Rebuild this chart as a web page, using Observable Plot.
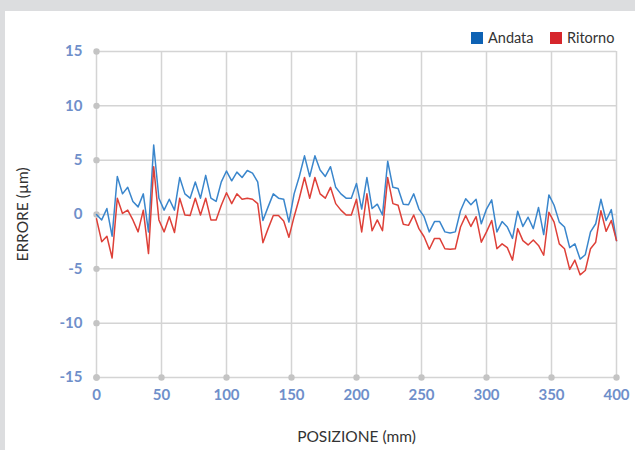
<!DOCTYPE html>
<html>
<head>
<meta charset="utf-8">
<script src="https://cdn.jsdelivr.net/npm/d3@7"></script>
<script src="https://cdn.jsdelivr.net/npm/@observablehq/plot@0.6"></script>
<style>
  html, body { margin: 0; padding: 0; background: #dcdddf; width: 635px; height: 450px; overflow: hidden; }
  #panel { position: absolute; left: 5px; top: 11px; width: 630px; height: 439px; background: #fff; font-family: Lato, "Open Sans", sans-serif; }
  #legend { height: 30px; position: relative; font-size: 14.5px; color: #333; }
  .item { position: absolute; top: 19px; display: flex; align-items: center; line-height: 16px; }
  .sw { width: 12px; height: 12px; margin-right: 5px; }
</style>
</head>
<body>
<div id="panel">
  <div id="legend"></div>
  <div id="chart"></div>
</div>
<script>
const positions = [0,4,8,12,16,20,24,28,32,36,40,44,48,52,56,60,64,68,72,76,80,84,88,92,96,100,104,108,112,116,120,124,128,132,136,140,144,148,152,156,160,164,168,172,176,180,184,188,192,196,200,204,208,212,216,220,224,228,232,236,240,244,248,252,256,260,264,268,272,276,280,284,288,292,296,300,304,308,312,316,320,324,328,332,336,340,344,348,352,356,360,364,368,372,376,380,384,388,392,396,400];
const andata = [0,-0.5,0.55,-2.0,3.5,1.9,2.5,1.2,0.7,1.9,-1.6,6.4,1.5,0.4,1.4,0.4,3.4,1.9,1.5,3.0,1.5,3.6,1.5,1.2,3.0,4.0,3.1,3.9,3.4,4.05,3.8,3.0,-0.55,0.7,1.9,1.5,1.4,-0.7,1.9,3.5,5.4,3.5,5.4,4.1,3.5,4.4,2.5,1.9,1.5,1.5,2.85,0.5,3.4,0.55,0.95,-0.05,4.9,2.5,2.4,0.95,0.9,1.9,0.5,-0.2,-1.6,-0.65,-0.65,-1.6,-1.7,-1.6,0.35,1.45,0.9,1.4,-0.85,0.5,1.35,-1.6,-0.65,-1.15,-2.2,0.3,-1.1,-0.25,-1.3,0.65,-1.85,1.8,0.85,-0.7,-1.15,-3.05,-2.7,-4.1,-3.7,-1.6,-0.85,1.4,-0.55,0.45,-2.4];
const ritorno = [-0.4,-2.5,-2.0,-4.0,1.5,0.1,0.4,-0.5,-1.6,0.4,-3.6,4.4,-0.5,-1.6,-0.2,-1.65,1.5,-0.05,-0.1,1.5,-0.05,1.5,-0.5,-0.5,0.85,2.0,1.0,1.9,1.4,1.5,1.4,1.0,-2.6,-1.3,-0.1,-0.1,-0.6,-2.1,-0.2,1.5,3.4,1.5,3.4,1.9,1.5,2.5,1.0,0.4,-0.05,-0.05,1.4,-1.6,1.9,-1.5,-0.5,-1.5,3.4,1.0,0.85,-0.9,-1.0,-0.05,-1.3,-2.05,-3.2,-2.2,-2.2,-3.15,-3.2,-3.15,-1.15,-0.1,-1.1,-0.2,-2.55,-1.6,-0.55,-3.15,-2.7,-3.05,-4.2,-1.3,-2.4,-2.8,-2.35,-2.85,-3.75,0.2,-0.7,-2.7,-3.15,-5.05,-4.2,-5.55,-5.15,-3.15,-2.55,0.35,-1.55,-0.55,-2.4];
const xTicks = [0,50,100,150,200,250,300,350,400];
const yTicks = [-15,-10,-5,0,5,10,15];
const seriesNames = ["Andata", "Ritorno"];
const lineColors = ["#3a86cc", "#de4038"];
const swatchColors = ["#0e62b4", "#d6262c"];

const rows = [];
positions.forEach((p, i) => {
  rows.push({pos: p, err: andata[i], s: seriesNames[0]});
  rows.push({pos: p, err: ritorno[i], s: seriesNames[1]});
});

// legend
const legend = document.getElementById("legend");
const legendLeft = [466, 545];
seriesNames.forEach((n, i) => {
  const it = document.createElement("div");
  it.className = "item";
  it.style.left = legendLeft[i] + "px";
  it.innerHTML = `<span class="sw" style="background:${swatchColors[i]}"></span><span>${n}</span>`;
  legend.appendChild(it);
});

const tickColor = "#6f8fca";
const grid = "#d4d4d4";
const chart = Plot.plot({
  width: 630,
  height: 409,
  marginLeft: 91,
  marginRight: 19,
  marginTop: 10,
  marginBottom: 73,
  style: {fontFamily: "Lato, 'Open Sans', sans-serif", background: "#fff", overflow: "visible"},
  x: {domain: [0, 400]},
  y: {domain: [-15, 15]},
  color: {domain: seriesNames, range: lineColors},
  marks: [
    Plot.ruleX(xTicks, {stroke: grid, strokeWidth: 1.5}),
    Plot.ruleY(yTicks, {stroke: grid, strokeWidth: 1.5}),
    Plot.dot(yTicks, {x: () => 0, y: d => d, r: 3.2, fill: "#c4c4c4"}),
    Plot.dot(xTicks, {x: d => d, y: () => -15, r: 3.2, fill: "#c4c4c4"}),
    Plot.axisY(yTicks, {tickSize: 0, tickPadding: 14, color: tickColor, fontSize: 15, fontWeight: "bold",
      tickFormat: d => String(d),
      label: "ERRORE (µm)", labelAnchor: "center", labelOffset: 80, labelArrow: "none"}),
    Plot.axisX(xTicks, {tickSize: 0, tickPadding: 12, color: tickColor, fontSize: 15, fontWeight: "bold",
      tickFormat: d => String(d),
      label: "POSIZIONE (mm)", labelAnchor: "center", labelOffset: 64, labelArrow: "none"}),
    Plot.line(rows, {x: "pos", y: "err", stroke: "s", z: "s", strokeWidth: 1.5})
  ]
});
chart.querySelectorAll('[aria-label="y-axis label"] text, [aria-label="x-axis label"] text').forEach(t => {
  t.setAttribute("fill", "#333");
  t.setAttribute("font-weight", "normal");
  t.setAttribute("font-size", "15.5");
});
document.getElementById("chart").appendChild(chart);
</script>
</body>
</html>
